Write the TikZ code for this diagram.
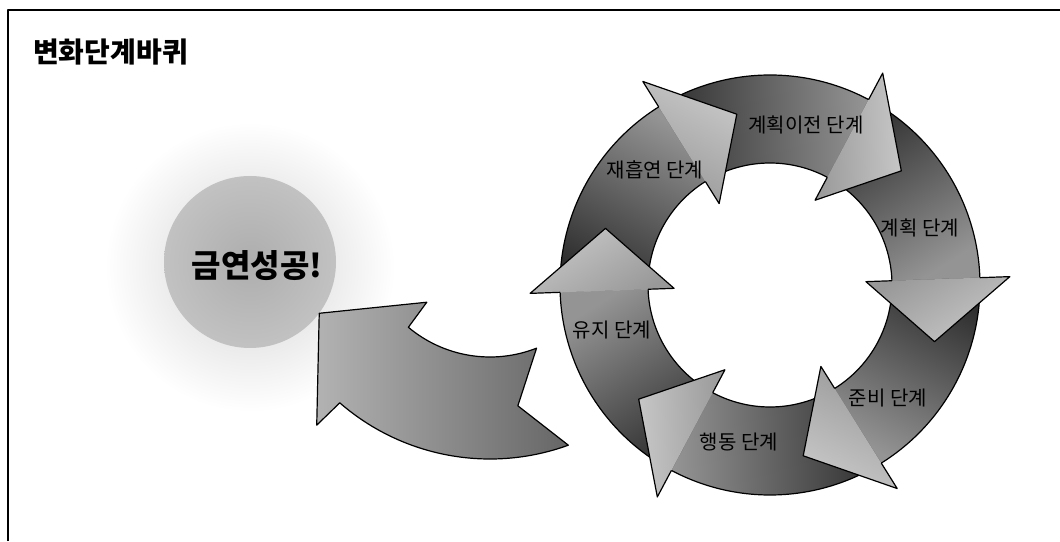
\documentclass[tikz,border=0pt]{standalone}
\usepackage{fontspec}
\newfontfamily\kr{Noto Sans CJK KR}
\begin{document}
\begin{tikzpicture}[x=1pt,y=1pt,line join=round,
  outline/.style={draw=black,line width=1.2pt},
  lbl/.style={font=\kr\fontsize{20}{24}\selectfont,inner sep=0pt}]
\useasboundingbox (0,0) rectangle (1060,541);
\fill[white] (0,0) rectangle (1060,541);
% frame
\draw[line width=1.2pt] (8,0) -- (8,531) -- (1060,531);
\node[anchor=west,inner sep=0pt,font=\kr\bfseries\fontsize{28}{32}\selectfont] (title) at (33,489) {변화단계바퀴};
% halo
\shade[inner color=black!18, outer color=white] (250,274) circle (145);
\shade[inner color=black!32, outer color=black!24] (250,279) circle (86);
\node[inner sep=0pt,font=\kr\bfseries\fontsize{32}{36}\selectfont] (success) at (257,275) {금연성공!};
% exit arrow
\begin{scope}[shift={(490,311)}]
\shade[left color=black!30, middle color=black!85, right color=black!60, outline]
  (-70:229) arc[start angle=-70, end angle=-131, radius=229]
  -- (-131.6:261) -- (-154:190) -- (-131.2:96) -- (-130:127)
  arc[start angle=-130, end angle=-68.5, radius=127]
  -- (-81:178) -- cycle;
\end{scope}
% wheel bodies
\begin{scope}[shift={(770,256)}]
\foreach \a in {122,62,2,-58,-118,-178}{
  \pgfmathsetmacro\t{\a+60}
  \pgfmathsetmacro\sa{\a-150}
  \shade[top color=black!42, bottom color=black!82, shading angle=\sa]
    (\t:210) arc[start angle=\t, end angle=\a, radius=210]
    -- (\a:122) arc[start angle=\a, end angle=\t, radius=122] -- cycle;
  \draw[outline] (\t:210) arc[start angle=\t, end angle=\a, radius=210];
  \draw[outline] (\a:122) arc[start angle=\a, end angle=\t, radius=122];
}
\foreach \a in {122,62,2,-58,-118,-178}{
  \pgfmathsetmacro\sa{\a-150}
  \shade[top color=black!22, bottom color=black!40, shading angle=\sa]
    (\a:122) -- (\a:96) -- (\a-21:174) -- (\a:240) -- (\a:210) -- cycle;
  \draw[outline] (\a:122) -- (\a:96) -- (\a-21:174) -- (\a:240) -- (\a:210);
}
\end{scope}
% labels
\node[lbl] (s1) at (806,416) {계획이전 단계};
\node[lbl] (s2) at (920,313) {계획 단계};
\node[lbl] (s3) at (888,143) {준비 단계};
\node[lbl] (s4) at (739,99) {행동 단계};
\node[lbl] (s5) at (612,211) {유지 단계};
\node[lbl] (s6) at (655,371) {재흡연 단계};
\end{tikzpicture}
\end{document}
